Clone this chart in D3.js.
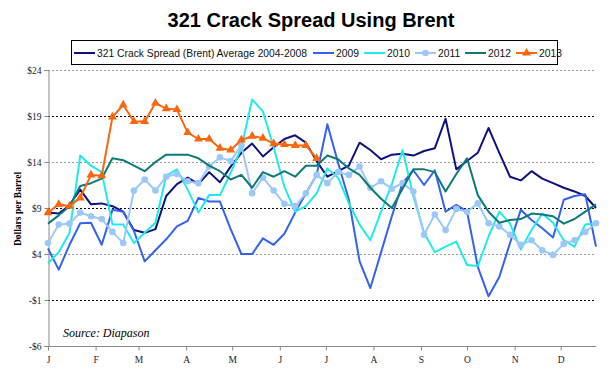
<!DOCTYPE html>
<html>
<head>
<meta charset="utf-8">
<script src="https://cdn.jsdelivr.net/npm/d3@7"></script>
<style>
  body { margin: 0; background: #fff; }
  svg { display: block; }
</style>
</head>
<body>
<div id="chart"></div>
<script>
// weekly values, 52 weeks starting Jan 1
const avg0408 = [8.5, 8.4, 9.3, 11.0, 9.4, 9.5, 9.2, 8.6, 6.6, 6.3, 6.7, 10.3, 11.6, 12.3, 11.6, 12.9,
  11.8, 13.5, 15.0, 16.0, 14.6, 15.6, 16.5, 16.9, 16.1, 14.1, 12.4, 13.0, 13.6, 16.1, 15.3, 14.3,
  14.8, 14.9, 14.7, 15.2, 15.5, 18.7, 13.2, 14.1, 15.0, 17.7, 15.0, 12.4, 12.0, 13.0, 12.2, 11.7,
  11.2, 10.8, 10.3, 9.0];
const y2009 = [4.6, 2.3, 5.0, 7.35, 7.4, 5.0, 8.8, 8.6, 6.5, 3.2, 4.4, 5.6, 7.0, 7.6, 10.1, 9.7,
  9.7, 6.7, 4.0, 4.0, 5.7, 5.0, 6.2, 8.5, 10.6, 12.6, 18.1, 13.9, 9.9, 3.2, 0.3, 4.2,
  8.1, 11.7, 13.1, 11.5, 13.1, 8.6, 9.35, 8.6, 2.6, -0.6, 1.5, 5.2, 8.8, 7.7, 6.8, 5.8,
  9.9, 10.3, 10.5, 4.8];
const y2010 = [3.0, 4.2, 6.3, 14.7, 13.6, 12.9, 7.2, 7.2, 5.2, 6.3, 7.4, 12.5, 13.2, 11.0, 8.5, 10.4,
  10.4, 12.8, 15.6, 20.8, 19.5, 15.6, 11.3, 8.6, 9.2, 10.6, 13.3, 12.3, 9.5, 7.2, 5.5, 8.6,
  11.6, 15.3, 10.3, 6.3, 4.2, 4.8, 5.35, 2.8, 2.7, 5.9, 8.6, 7.3, 4.5, 6.6, 8.4, 7.4,
  5.5, 4.8, 7.2, 7.35];
const y2011 = [5.2, 7.2, 7.3, 8.5, 8.1, 7.8, 6.4, 5.2, 10.9, 12.1, 10.9, 12.4, 12.7, 11.9, 11.7, 13.5,
  14.5, 14.1, 15.8, 10.6, 12.3, 10.9, 9.45, 9.2, 10.6, 12.6, 11.7, 12.9, 12.6, 13.5, 11.2, 11.9,
  11.1, 11.7, 10.8, 6.1, 8.3, 6.6, 8.9, 8.6, 9.5, 7.35, 7.0, 6.1, 5.0, 5.5, 4.4, 3.9,
  5.1, 5.5, 6.4, 7.35];
const y2012 = [7.3, 8.2, 9.2, 11.4, 11.7, 12.2, 14.4, 14.2, 13.6, 13.0, 14.0, 14.8, 14.8, 14.8, 14.4, 13.6,
  13.0, 12.1, 12.6, 11.2, 12.9, 12.4, 13.0, 12.4, 13.6, 13.6, 14.7, 14.3, 13.3, 12.6, 11.2, 10.0,
  9.0, 11.1, 13.2, 13.2, 12.9, 10.8, 12.7, 14.4, 10.4, 8.6, 7.4, 7.7, 7.8, 8.4, 8.3, 8.1,
  7.3, 7.8, 8.6, 9.4];
const y2013 = [8.5, 9.4, 9.2, 10.1, 12.6, 12.5, 18.9, 20.2, 18.4, 18.4, 20.4, 19.8, 19.7, 17.2, 16.5, 16.5,
  15.5, 15.3, 16.4, 16.8, 16.6, 16.0, 15.9, 15.8, 15.8, 14.4];

const seriesNames = ["321 Crack Spread (Brent) Average 2004-2008", "2009", "2010", "2011", "2012", "2013"];
const monthLabels = ["J", "F", "M", "A", "M", "J", "J", "A", "S", "O", "N", "D"];
const yTicks = [-6, -1, 4, 9, 14, 19, 24];

const width = 610, height = 375;
const plotLeft = 48, plotRight = 596, plotTop = 70, plotBottom = 346;

const series = [
  { name: seriesNames[0], values: avg0408, color: "#10107e", marker: null },
  { name: seriesNames[1], values: y2009, color: "#3462f0", marker: null },
  { name: seriesNames[2], values: y2010, color: "#22eaea", marker: null },
  { name: seriesNames[3], values: y2011, color: "#9cc8f8", marker: "circle" },
  { name: seriesNames[4], values: y2012, color: "#0e7a78", marker: null },
  { name: seriesNames[5], values: y2013, color: "#f8660e", marker: "triangle" }
];

const weekDate = i => new Date(2013, 0, 1 + 7 * i);

const x = d3.scaleTime()
  .domain([weekDate(0), weekDate(51)])
  .range([plotLeft, plotRight]);

const y = d3.scaleLinear()
  .domain([-6, 24])
  .range([plotBottom, plotTop]);

const svg = d3.select("#chart").append("svg")
  .attr("width", width)
  .attr("height", height);

svg.append("text")
  .attr("x", 311)
  .attr("y", 27)
  .attr("text-anchor", "middle")
  .style("font-family", "'Liberation Sans', Arial, sans-serif")
  .style("font-weight", "bold")
  .style("font-size", "20px")
  .text("321 Crack Spread Using Brent");

// gridlines
svg.append("g")
  .selectAll("line")
  .data(yTicks.filter(d => d > -6))
  .enter().append("line")
  .attr("x1", plotLeft)
  .attr("x2", plotRight)
  .attr("y1", d => Math.round(y(d)) + 0.5)
  .attr("y2", d => Math.round(y(d)) + 0.5)
  .attr("stroke", (d, i) => i % 2 === 0 ? "#000" : "#999")
  .attr("stroke-width", 1)
  .attr("stroke-dasharray", "2,2");

// y axis
const yAxis = d3.axisLeft(y)
  .tickValues(yTicks)
  .tickSize(4)
  .tickPadding(3)
  .tickFormat(d => (d < 0 ? "-$" : "$") + Math.abs(d));

svg.append("g")
  .attr("transform", "translate(" + (plotLeft + 0.5) + ",0)")
  .call(yAxis)
  .call(g => {
    g.select(".domain").attr("stroke", "#888");
    g.selectAll(".tick line").attr("stroke", "#888");
    g.selectAll("text")
      .style("font-family", "'Liberation Serif', 'Times New Roman', serif")
      .style("font-size", "9.5px")
      .attr("fill", "#222");
  });

// x axis
const xAxis = d3.axisBottom(x)
  .ticks(d3.timeMonth.every(1))
  .tickSize(4)
  .tickPadding(6)
  .tickFormat(d => monthLabels[d.getMonth()]);

svg.append("g")
  .attr("transform", "translate(0," + (plotBottom + 0.5) + ")")
  .call(xAxis)
  .call(g => {
    g.select(".domain").attr("stroke", "#888").attr("d", "M" + plotLeft + ",0H" + plotRight);
    g.selectAll(".tick line").attr("stroke", "#888");
    g.selectAll("text")
      .style("font-family", "'Liberation Serif', 'Times New Roman', serif")
      .style("font-size", "9.5px")
      .attr("fill", "#222");
  });

svg.append("text")
  .attr("transform", "translate(21,209) rotate(-90)")
  .attr("text-anchor", "middle")
  .style("font-family", "'Liberation Serif', 'Times New Roman', serif")
  .style("font-weight", "bold")
  .style("font-size", "9.5px")
  .text("Dollars per Barrel");

svg.append("text")
  .attr("x", 63)
  .attr("y", 337)
  .style("font-family", "'Liberation Serif', 'Times New Roman', serif")
  .style("font-style", "italic")
  .style("font-size", "12px")
  .text("Source: Diapason");

// lines
const line = d3.line()
  .x((d, i) => x(weekDate(i)))
  .y(d => y(d));

const triangle = d3.symbol().type(d3.symbolTriangle).size(34);

series.forEach(s => {
  svg.append("path")
    .datum(s.values)
    .attr("fill", "none")
    .attr("stroke", s.color)
    .attr("stroke-width", 2)
    .attr("stroke-linejoin", "round")
    .attr("d", line);

  if (s.marker === "circle") {
    svg.append("g").selectAll("circle")
      .data(s.values)
      .enter().append("circle")
      .attr("cx", (d, i) => x(weekDate(i)))
      .attr("cy", d => y(d))
      .attr("r", 3.3)
      .attr("fill", s.color);
  } else if (s.marker === "triangle") {
    svg.append("g").selectAll("path")
      .data(s.values)
      .enter().append("path")
      .attr("d", triangle)
      .attr("transform", (d, i) => "translate(" + x(weekDate(i)) + "," + y(d) + ")")
      .attr("fill", s.color);
  }
});

// legend
const legend = svg.append("g");
legend.append("rect")
  .attr("x", 71.5)
  .attr("y", 40.5)
  .attr("width", 486)
  .attr("height", 24)
  .attr("fill", "#fff")
  .attr("stroke", "#000");

const legendX = [74, 313, 364, 415, 465, 516];
const legendY = 53;
series.forEach((s, i) => {
  const gx = legendX[i];
  legend.append("line")
    .attr("x1", gx).attr("x2", gx + 21)
    .attr("y1", legendY).attr("y2", legendY)
    .attr("stroke", s.color)
    .attr("stroke-width", 2);
  if (s.marker === "circle") {
    legend.append("circle").attr("cx", gx + 10.5).attr("cy", legendY).attr("r", 3.3).attr("fill", s.color);
  } else if (s.marker === "triangle") {
    legend.append("path").attr("d", triangle).attr("transform", "translate(" + (gx + 10.5) + "," + legendY + ")").attr("fill", s.color);
  }
  legend.append("text")
    .attr("x", gx + 23)
    .attr("y", legendY + 3.5)
    .style("font-family", "'Liberation Sans', Arial, sans-serif")
    .style("font-size", "10.3px")
    .attr("fill", "#111")
    .text(s.name);
});
</script>
</body>
</html>
